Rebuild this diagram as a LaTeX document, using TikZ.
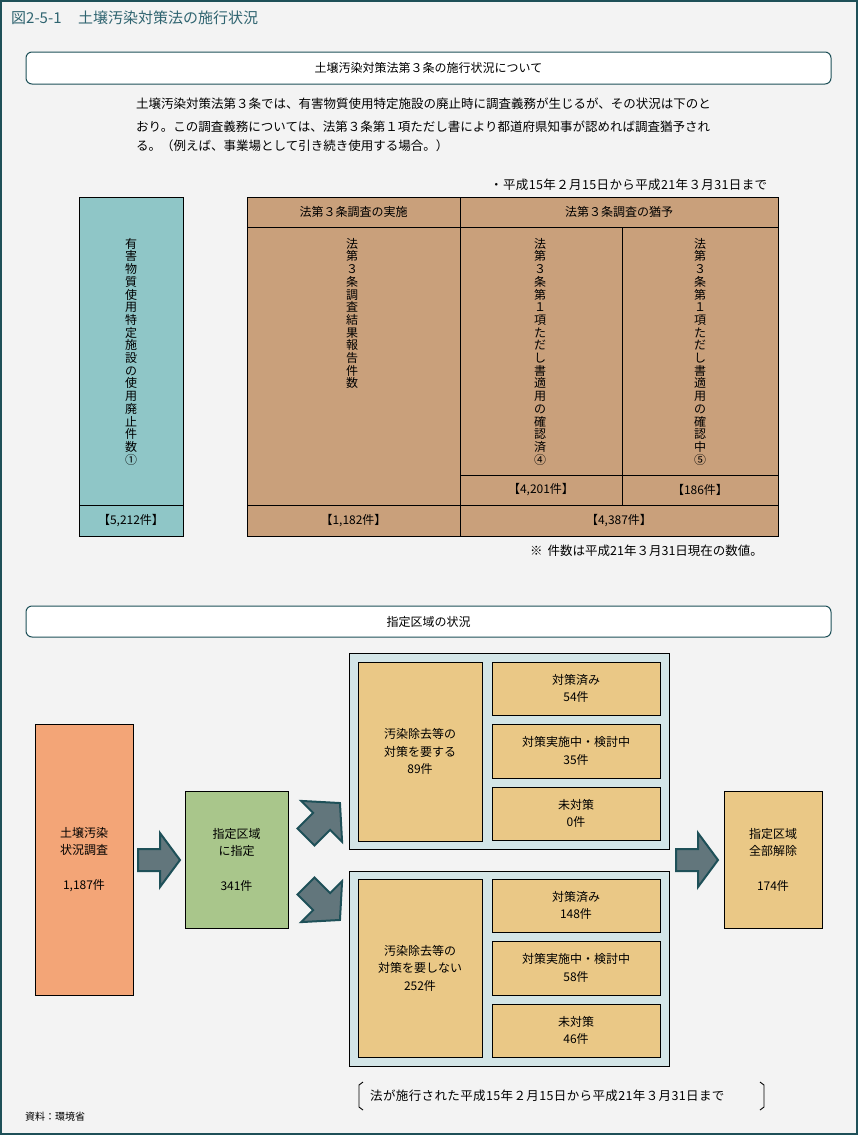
\documentclass[tikz,border=0pt]{standalone}
\usepackage{fontspec}
\setmainfont{Noto Sans CJK JP}
\usetikzlibrary{fit}
\definecolor{bgc}{HTML}{F3F3F3}
\definecolor{framec}{HTML}{1E5058}
\definecolor{titlec}{HTML}{2F6470}
\definecolor{tealc}{HTML}{8FC6C7}
\definecolor{tanc}{HTML}{C9A07B}
\definecolor{orangec}{HTML}{F3A577}
\definecolor{greenc}{HTML}{A9C68B}
\definecolor{contc}{HTML}{D3E5E7}
\definecolor{yelc}{HTML}{EAC886}
\definecolor{arrowc}{HTML}{62767C}
\tikzset{
 cell/.style={draw=black, line width=0.9pt, inner sep=0pt},
 hdr/.style={draw=framec, fill=white, rounded corners=6pt, line width=1pt, inner sep=0pt},
 lab/.style={font=\fontsize{12}{17.5}\selectfont, align=center, inner sep=0pt},
 ptxt/.style={font=\fontsize{12.5}{15}\selectfont, inner sep=0pt, anchor=west},
 dtxt/.style={font=\fontsize{12.5}{15}\selectfont\addfontfeatures{LetterSpace=3}, inner sep=0pt, anchor=west},
 vtxt/.style={font=\fontsize{12}{12.7}\selectfont, align=center, inner sep=0pt, anchor=north},
 arr/.style={fill=arrowc, draw=framec, line width=2pt, line join=miter},
}
\newcommand\blockarrow[7]{% cx, cy, angle, L, hl, h, w
 \begin{scope}[shift={(#1,#2)}, rotate=#3]
  \draw[arr] ({-#4/2},{-#7}) -- ({#4/2-#5},{-#7}) -- ({#4/2-#5},{-#6}) -- ({#4/2},0)
   -- ({#4/2-#5},{#6}) -- ({#4/2-#5},{#7}) -- ({-#4/2},{#7}) -- cycle;
 \end{scope}}
\begin{document}
\begin{tikzpicture}[x=1pt,y=-1pt]
\useasboundingbox (0,0) rectangle (858,1135);
\fill[bgc] (0,0) rectangle (858,1135);
\draw[framec, line width=2pt] (1,1) rectangle (857,1134);
\node[anchor=west, text=titlec, font=\fontsize{15}{17}\selectfont, inner sep=0pt] (title) at (11,18) {図2-5-1\hspace{1.1em}土壌汚染対策法の施行状況};

% ---------- section 1 ----------
\node[hdr, fit={(26,52) (831,84)}] (h1) {};
\node[lab] (h1t) at (h1.center) {土壌汚染対策法第３条の施行状況について};

\node[ptxt] (p1) at (136,104) {土壌汚染対策法第３条では、有害物質使用特定施設の廃止時に調査義務が生じるが、その状況は下のと};
\node[ptxt] (p2) at (136,127) {おり。この調査義務については、法第３条第１項ただし書により都道府県知事が認めれば調査猶予され};
\node[ptxt] (p3) at (136,146) {る。（例えば、事業場として引き続き使用する場合。）};
\node[dtxt] (date) at (490,185) {・平成15年２月15日から平成21年３月31日まで};

\node[cell, fill=tealc, fit={(79,197) (183,505)}] (teal) {};
\node[cell, fill=tealc, fit={(79,505) (183,536)}] (tealn) {};
\node[cell, fill=tanc, fit={(247,197) (460,227)}] (th1) {};
\node[cell, fill=tanc, fit={(460,197) (778,227)}] (th2) {};
\node[cell, fill=tanc, fit={(247,227) (460,505)}] (c1) {};
\node[cell, fill=tanc, fit={(460,227) (622,475)}] (c2) {};
\node[cell, fill=tanc, fit={(622,227) (778,475)}] (c3) {};
\node[cell, fill=tanc, fit={(460,475) (622,505)}] (c2n) {};
\node[cell, fill=tanc, fit={(622,475) (778,505)}] (c3n) {};
\node[cell, fill=tanc, fit={(247,505) (460,536)}] (c1n) {};
\node[cell, fill=tanc, fit={(460,505) (778,536)}] (c23n) {};

\node[lab] at (th1.center) {法第３条調査の実施};
\node[lab] at (th2.center) {法第３条調査の猶予};
\node[vtxt] (v0) at (131,238) {有\\害\\物\\質\\使\\用\\特\\定\\施\\設\\の\\使\\用\\廃\\止\\件\\数\\①};
\node[vtxt] (v1) at (352,238) {法\\第\\３\\条\\調\\査\\結\\果\\報\\告\\件\\数};
\node[vtxt] (v2) at (540,238) {法\\第\\３\\条\\第\\１\\項\\た\\だ\\し\\書\\適\\用\\の\\確\\認\\済\\④};
\node[vtxt] (v3) at (700,238) {法\\第\\３\\条\\第\\１\\項\\た\\だ\\し\\書\\適\\用\\の\\確\\認\\中\\⑤};
\node[lab] at (tealn.center) {【5,212件】};
\node[lab] at (c1n.center) {【1,182件】};
\node[lab] at (c2n.center) {【4,201件】};
\node[lab] at (c3n.center) {【186件】};
\node[lab] at (c23n.center) {【4,387件】};
\node[ptxt] (note) at (530,551) {※\hspace{0.4em}件数は平成21年３月31日現在の数値。};

% ---------- section 2 ----------
\node[hdr, fit={(26,606) (831,637)}] (h2) {};
\node[lab] at (h2.center) {指定区域の状況};

\node[cell, fill=orangec, fit={(35,724) (133,995)}] (survey) {};
\node[lab] at (survey.center) {土壌汚染\\状況調査\\[17pt]1,187件};
\node[cell, fill=greenc, fit={(185,791) (288,928)}] (desig) {};
\node[lab] at (desig.center) {指定区域\\に指定\\[17pt]341件};
\node[cell, fill=yelc, fit={(724,791) (822,928)}] (release) {};
\node[lab] at (release.center) {指定区域\\全部解除\\[17pt]174件};

% upper group
\node[cell, fill=contc, fit={(349,653) (669,849)}] (g1) {};
\node[cell, fill=yelc, fit={(358,662) (482,841)}] (g1a) {};
\node[cell, fill=yelc, fit={(492,662) (660,715)}] (g1b) {};
\node[cell, fill=yelc, fit={(492,724) (660,778)}] (g1c) {};
\node[cell, fill=yelc, fit={(492,787) (660,840)}] (g1d) {};
\node[lab] at (g1a.center) {汚染除去等の\\対策を要する\\89件};
\node[lab] at (g1b.center) {対策済み\\54件};
\node[lab] at (g1c.center) {対策実施中・検討中\\35件};
\node[lab] at (g1d.center) {未対策\\0件};

% lower group
\node[cell, fill=contc, fit={(349,871) (669,1066)}] (g2) {};
\node[cell, fill=yelc, fit={(358,879) (482,1057)}] (g2a) {};
\node[cell, fill=yelc, fit={(492,879) (660,932)}] (g2b) {};
\node[cell, fill=yelc, fit={(492,941) (660,995)}] (g2c) {};
\node[cell, fill=yelc, fit={(492,1004) (660,1057)}] (g2d) {};
\node[lab] at (g2a.center) {汚染除去等の\\対策を要しない\\252件};
\node[lab] at (g2b.center) {対策済み\\148件};
\node[lab] at (g2c.center) {対策実施中・検討中\\58件};
\node[lab] at (g2d.center) {未対策\\46件};

% block arrows
\blockarrow{159}{860}{0}{42}{20}{27}{11}
\blockarrow{697}{860}{0}{42}{20}{27}{11}
\blockarrow{323}{820}{45}{48}{26}{29}{12}
\blockarrow{323}{903}{-45}{48}{26}{29}{12}

% bottom bracket note
\node[dtxt] (period) at (370,1096) {法が施行された平成15年２月15日から平成21年３月31日まで};
\draw[line width=0.9pt] (363,1082) -- (359,1085) -- (359,1107) -- (363,1110);
\draw[line width=0.9pt] (760,1082) -- (764,1085) -- (764,1107) -- (760,1110);
\node[ptxt, font=\fontsize{10}{12}\selectfont] (src) at (25,1117) {資料：環境省};
\end{tikzpicture}
\end{document}
